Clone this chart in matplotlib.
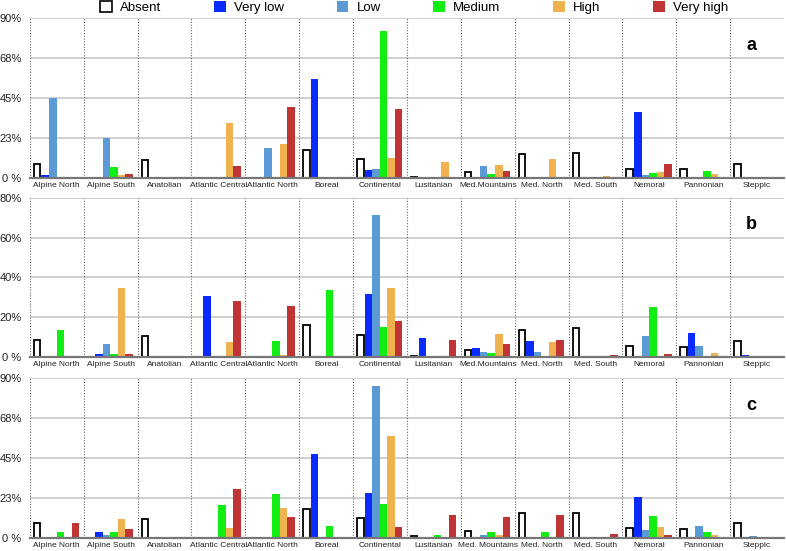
import numpy as np
import matplotlib
matplotlib.use("Agg")
import matplotlib.pyplot as plt
from matplotlib.patches import Patch

plt.rcParams['font.family'] = ['Liberation Sans', 'DejaVu Sans']

regions = ["Alpine North", "Alpine South", "Anatolian", "Atlantic Central", "Atlantic North",
           "Boreal", "Continental", "Lusitanian", "Med.Mountains", "Med. North",
           "Med. South", "Nemoral", "Pannonian", "Steppic"]
regions_c = regions[:8] + ["Med. Mountains"] + regions[9:]
classes = ["Absent", "Very low", "Low", "Medium", "High", "Very high"]
colors = ["white", "#0a2bff", "#5b9bd5", "#12ee12", "#f0b24e", "#c03434"]

# percentages per region, one list per class
a_absent   = [8.1, 0, 10.3, 0, 0, 15.8, 10.7, 0.8, 3.6, 13.5, 13.9, 5.3, 5.3, 8.1]
a_verylow  = [1.5, 0, 0, 0, 0, 56.0, 4.5, 0, 0, 0, 0, 37.4, 0, 0]
a_low      = [45.3, 22.6, 0, 0, 16.7, 0, 4.9, 0, 7.0, 0, 0, 1.5, 0, 0]
a_medium   = [0, 6.0, 0, 0, 0.8, 0, 83.0, 0, 2.3, 0, 0, 2.8, 4.1, 0]
a_high     = [0, 1.5, 0, 31.0, 19.4, 0, 11.3, 9.0, 7.3, 10.9, 0.9, 3.2, 2.1, 0]
a_veryhigh = [0, 2.4, 0, 6.6, 39.7, 0, 39.1, 0, 3.8, 0, 0, 7.7, 0, 0]

b_absent   = [8.6, 0, 10.6, 0, 0, 16.1, 11.1, 0.5, 3.7, 13.8, 14.6, 5.7, 5.2, 8.2]
b_verylow  = [0, 1.3, 0, 30.5, 0, 0, 31.5, 9.7, 4.7, 7.9, 0, 0, 12.2, 1.0]
b_low      = [0, 6.5, 0, 0, 0, 0, 71.5, 0, 2.7, 2.7, 0, 10.7, 5.7, 0]
b_medium   = [13.8, 1.7, 0, 0, 7.9, 33.7, 14.9, 0, 2.2, 0, 0, 25.0, 0, 0]
b_high     = [0, 34.6, 0, 7.4, 1.0, 0, 34.6, 0, 11.4, 7.4, 0, 0, 2.2, 0]
b_veryhigh = [0, 1.3, 0, 28.4, 25.8, 0, 18.0, 8.4, 6.7, 8.7, 1.0, 1.3, 0, 0]

c_absent   = [8.3, 0, 10.5, 0, 0, 16.1, 11.1, 1.1, 3.9, 13.9, 14.3, 5.8, 5.3, 8.3]
c_verylow  = [0, 3.6, 0, 0, 0, 47.1, 25.1, 0, 0.6, 0, 0, 23.3, 0, 0]
c_low      = [0, 1.9, 0, 0, 0, 0, 85.5, 0, 1.5, 0, 0, 4.5, 6.9, 0.9]
c_medium   = [3.6, 3.2, 0, 18.4, 24.8, 6.8, 19.3, 1.5, 3.2, 3.6, 0, 12.6, 3.2, 0]
c_high     = [0, 10.7, 0, 5.8, 16.7, 0, 57.2, 0, 1.5, 0, 0, 6.4, 1.9, 0]
c_veryhigh = [8.4, 5.1, 0, 27.4, 11.8, 0.8, 6.4, 13.1, 11.8, 13.1, 2.3, 1.5, 0, 0]

panels = [
    ("a", [a_absent, a_verylow, a_low, a_medium, a_high, a_veryhigh], 90,
     [0, 22.5, 45, 67.5, 90], ["0 %", "23%", "45%", "68%", "90%"], regions),
    ("b", [b_absent, b_verylow, b_low, b_medium, b_high, b_veryhigh], 80,
     [0, 20, 40, 60, 80], ["0 %", "20%", "40%", "60%", "80%"], regions),
    ("c", [c_absent, c_verylow, c_low, c_medium, c_high, c_veryhigh], 90,
     [0, 22.5, 45, 67.5, 90], ["0 %", "23%", "45%", "68%", "90%"], regions_c),
]

fig = plt.figure(figsize=(7.86, 5.51), dpi=100)
boxes = [(0.677, 0.290), (0.352, 0.289), (0.0236, 0.290)]
left, width = 0.038, 0.9595
bw = 0.14
off = 0.075
n = len(regions)
x = np.arange(n)

for (letter, series, ymax, ticks, ticklabels, labels), (bot, h) in zip(panels, boxes):
    ax = fig.add_axes([left, bot, width, h])
    for k, vals in enumerate(series):
        xs = x + off + k * bw
        if k == 0:
            ax.bar(xs, vals, width=bw * 0.85, align='edge', color='white',
                   edgecolor='black', linewidth=1.3, zorder=3)
        else:
            ax.bar(xs, vals, width=bw, align='edge', color=colors[k],
                   linewidth=0, zorder=3)
    ax.set_xlim(0, n)
    ax.set_ylim(0, ymax)
    ax.set_yticks(ticks)
    ax.set_yticklabels(ticklabels, fontsize=8, color='#222222')
    ax.set_xticks(x + 0.5)
    ax.set_xticklabels(labels, fontsize=6, color='#222222')
    ax.tick_params(length=0, pad=3)
    ax.tick_params(axis='y', pad=6)
    for t in ticks[1:]:
        ax.axhline(t, color='#cccccc', lw=1.3, zorder=1)
    for xi in range(n):
        ax.axvline(xi, color='#666666', lw=0.8, ls=(0, (1, 1.5)), zorder=2)
    for s in ['top', 'right', 'left']:
        ax.spines[s].set_visible(False)
    ax.spines['bottom'].set_color('#777777')
    ax.spines['bottom'].set_linewidth(1.6)
    ax.spines['bottom'].set_zorder(4)
    ax.text(13.4, ymax * 0.83, letter, fontsize=13, fontweight='bold',
            ha='center', va='center')

handles = [Patch(facecolor=colors[0], edgecolor='black', linewidth=1.2)] + \
          [Patch(facecolor=c) for c in colors[1:]]
fig.legend(handles, classes, loc='center', bbox_to_anchor=(0.527, 0.987), ncol=6,
           frameon=False, fontsize=9.5, handlelength=0.9, handleheight=0.9,
           columnspacing=4.0, handletextpad=0.6, borderaxespad=0)

fig.savefig("out.png", dpi=100)
